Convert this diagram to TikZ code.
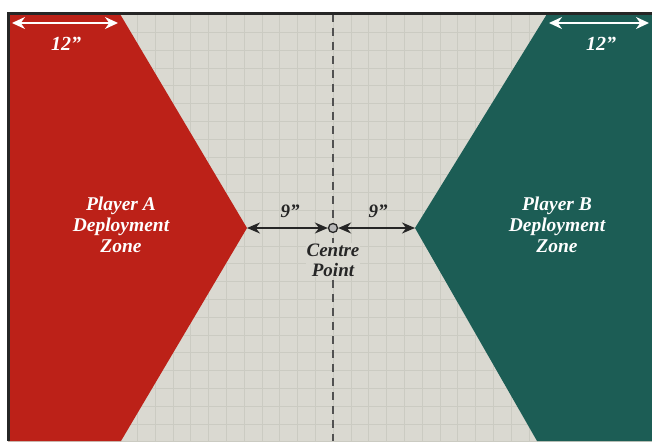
\documentclass[tikz,border=0pt]{standalone}
\usepackage{fontspec}
\setmainfont{Liberation Serif}
\usetikzlibrary{arrows.meta}
\definecolor{board}{HTML}{DAD9D1}
\definecolor{gridc}{HTML}{CBCBC2}
\definecolor{zonea}{HTML}{BC2118}
\definecolor{zoneb}{HTML}{1C5D55}
\definecolor{ink}{HTML}{262626}
\tikzset{
  zonelbl/.style={text=white, font=\fontsize{19.5}{21}\selectfont\bfseries\itshape, align=center},
  dimlbl/.style={text=white, font=\fontsize{20}{20}\selectfont\bfseries\itshape},
  inklbl/.style={text=ink, font=\fontsize{19}{20}\selectfont\bfseries\itshape, align=center},
  whitearrow/.style={draw=white, line width=1.8pt, {Stealth[length=13pt,width=12pt]}-{Stealth[length=13pt,width=12pt]}},
  inkarrow/.style={draw=ink, line width=1.5pt, {Stealth[length=13pt,width=11pt]}-{Stealth[length=13pt,width=11pt]}},
  centreline/.style={draw=ink!80, line width=1.8pt, dash pattern=on 8pt off 6pt},
  gridline/.style={draw=gridc, line width=0.5pt},
  border/.style={draw=ink, line width=3pt},
  cpoint/.style={circle, draw=ink, fill=gray!55, line width=1.3pt, minimum size=9pt, inner sep=0pt}
}
\begin{document}
\begin{tikzpicture}[x=1pt, y=-1pt]
  \useasboundingbox (0,0) rectangle (652,441);
  \fill[white] (0,0) rectangle (652,441);
  \fill[board] (8,14) rectangle (652,441);

  % faint square grid on the board
  \begin{scope}
    \clip (8,14) rectangle (652,441);
    \foreach \k in {-19,...,19}
      \draw[gridline] ({333+17.8*\k},14) -- ({333+17.8*\k},441);
    \foreach \k in {-12,...,12}
      \draw[gridline] (8,{228+17.8*\k}) -- (652,{228+17.8*\k});
  \end{scope}

  % zone tips
  \coordinate (atip) at (247,228);
  \coordinate (btip) at (415,228);

  \fill[zonea] (8,14) -- (120,14) -- (atip) -- (121,441) -- (8,441) -- cycle;
  \fill[zoneb] (547,14) -- (btip) -- (537,441) -- (652,441) -- (652,14) -- cycle;

  % centre line
  \coordinate (ctop) at (333,14);
  \coordinate (cbot) at (333,441);
  \draw[centreline] (ctop) -- (cbot);

  \draw[border] (8,441) -- (8,14) -- (652,14);

  \node[cpoint] (cp) at (333,228) {};
  \draw[inkarrow] (cp) -- (atip);
  \draw[inkarrow] (cp) -- (btip);

  % 12 inch markers
  \coordinate (al) at (12,23);
  \coordinate (ar) at (118,23);
  \coordinate (bl) at (549,23);
  \coordinate (br) at (649,23);
  \draw[whitearrow] (al) -- (ar);
  \draw[whitearrow] (bl) -- (br);
  \node[dimlbl] (adim) at (66,44) {12''};
  \node[dimlbl] (bdim) at (601,44) {12''};

  \node[inklbl] (ldim) at (290,211) {9''};
  \node[inklbl] (rdim) at (378,211) {9''};
  \node[inklbl, fill=board, inner sep=1pt] (cplbl) at (333,260) {Centre\\Point};

  \node[zonelbl] (alabel) at (121,225) {Player A\\Deployment\\Zone};
  \node[zonelbl] (blabel) at (557,225) {Player B\\Deployment\\Zone};
\end{tikzpicture}
\end{document}
